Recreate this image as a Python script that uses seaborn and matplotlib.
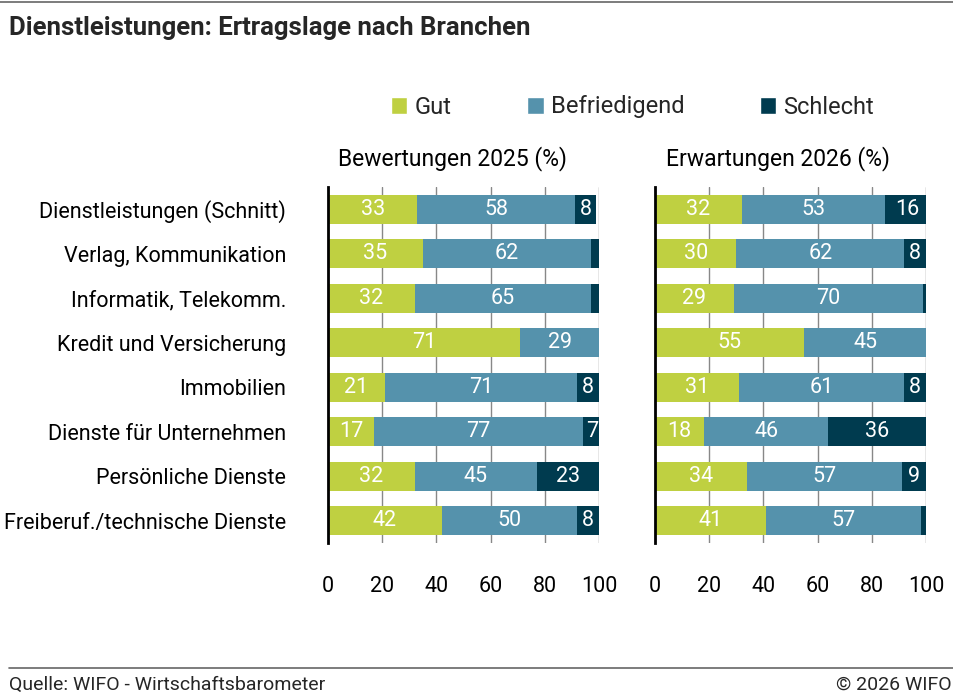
import numpy as np
import pandas as pd
import matplotlib
matplotlib.use("Agg")
import matplotlib.pyplot as plt
from matplotlib.patches import Patch
import seaborn as sns

sns.set_theme(style="white")
plt.rcParams['font.family'] = ['Roboto', 'DejaVu Sans']

branchen = ['Dienstleistungen (Schnitt)', 'Verlag, Kommunikation', 'Informatik, Telekomm.',
            'Kredit und Versicherung', 'Immobilien', 'Dienste für Unternehmen',
            'Persönliche Dienste', 'Freiberuf./technische Dienste']

gut_2025 = [33, 35, 32, 71, 21, 17, 32, 42]
befr_2025 = [58, 62, 65, 29, 71, 77, 45, 50]
schl_2025 = [8, 3, 3, 0, 8, 7, 23, 8]

gut_2026 = [32, 30, 29, 55, 31, 18, 34, 41]
befr_2026 = [53, 62, 70, 45, 61, 46, 57, 57]
schl_2026 = [16, 8, 1, 0, 8, 36, 9, 2]

serien = ['Gut', 'Befriedigend', 'Schlecht']
farben = ['#bfd041', '#5592ac', '#003b4f']

fig = plt.figure(figsize=(9.54, 7.0), dpi=100)
ax1 = fig.add_axes([0.3438, 0.2243, 0.2841, 0.5086])
ax2 = fig.add_axes([0.6866, 0.2243, 0.2841, 0.5086])


def panel(ax, gut, befr, schl, titel, titel_x, show_labels):
    df = pd.DataFrame({'Branche': branchen, 'Gut': gut, 'Befriedigend': befr, 'Schlecht': schl})
    df['c1'] = df['Gut']
    df['c2'] = df['Gut'] + df['Befriedigend']
    df['c3'] = df['c2'] + df['Schlecht']
    for col, farbe in zip(['c3', 'c2', 'c1'], farben[::-1]):
        sns.barplot(data=df, x=col, y='Branche', orient='h', color=farbe,
                    width=0.66, saturation=1, linewidth=0, ax=ax, zorder=3)
    for i, row in df.iterrows():
        starts = [0, row['c1'], row['c2']]
        for s, v in zip(starts, [row['Gut'], row['Befriedigend'], row['Schlecht']]):
            if v >= 5:
                ax.text(s + v / 2, i, f"{v}", ha='center', va='center',
                        color='white', fontsize=15.5, zorder=4)
    ax.set_xlim(0, 100)
    ax.set_ylim(7.5, -0.5)
    ax.set_xticks([0, 20, 40, 60, 80, 100])
    ax.xaxis.grid(True, color='#888888', linewidth=1, zorder=0)
    ax.set_axisbelow(True)
    for s in ['top', 'right', 'bottom']:
        ax.spines[s].set_visible(False)
    ax.spines['left'].set_color('black')
    ax.spines['left'].set_linewidth(2)
    ax.spines['left'].set_zorder(5)
    ax.tick_params(axis='x', length=0, pad=24, labelsize=15.5, colors='black')
    ax.tick_params(axis='y', length=0, pad=30, labelsize=15.5, colors='black')
    ax.set_xlabel('')
    ax.set_ylabel('')
    if not show_labels:
        ax.set_yticklabels([])
    ax.text(titel_x, 1 + 28 / 356, titel, transform=ax.transAxes, ha='center',
            va='center', fontsize=16.5, color='black')


panel(ax1, gut_2025, befr_2025, schl_2025, 'Bewertungen 2025 (%)', 0.461, True)
panel(ax2, gut_2026, befr_2026, schl_2026, 'Erwartungen 2026 (%)', 0.454, False)

handles = [Patch(facecolor=c, label=l) for c, l in zip(farben, serien)]
fig.legend(handles=handles, loc='center', bbox_to_anchor=(0.663, 1 - 107 / 700), ncol=3,
           frameon=False, fontsize=17, handlelength=0.7, handleheight=0.7,
           handletextpad=0.3, columnspacing=3.2)

fig.text(0.009, 1 - 28 / 700, 'Dienstleistungen: Ertragslage nach Branchen',
         fontsize=18.5, fontweight='bold', va='center', ha='left')
fig.add_artist(plt.Line2D([0, 1], [1 - 2 / 700, 1 - 2 / 700], color='#666666', linewidth=1.2))
fig.add_artist(plt.Line2D([0.009, 1], [1 - 668 / 700, 1 - 668 / 700], color='#666666', linewidth=1.2))
fig.text(0.009, 1 - 685 / 700, 'Quelle: WIFO - Wirtschaftsbarometer', fontsize=14,
         va='center', ha='left')
fig.text(0.998, 1 - 685 / 700, '© 2026 WIFO', fontsize=14, va='center', ha='right')

plt.savefig('out.png', dpi=100)
print("Saved out.png")
